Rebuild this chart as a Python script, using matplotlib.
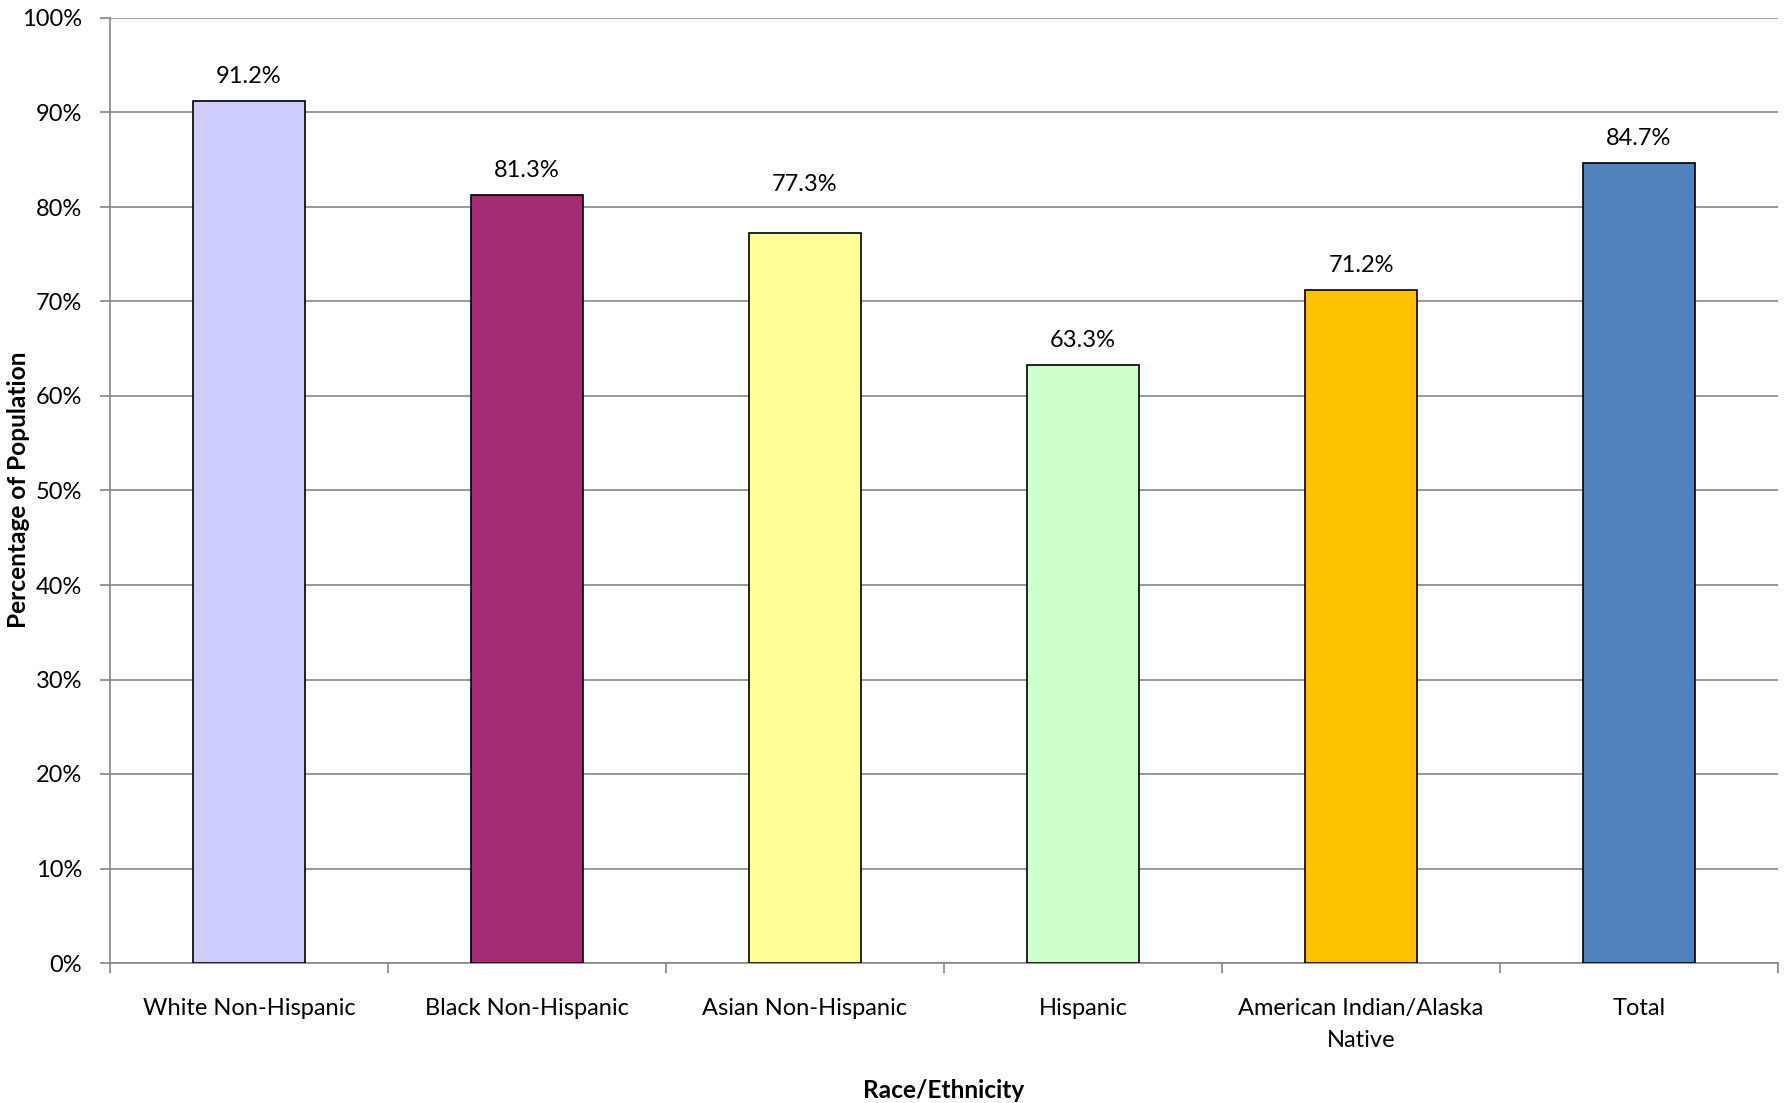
import matplotlib
matplotlib.use("Agg")
import matplotlib.pyplot as plt
from matplotlib.ticker import FixedLocator, PercentFormatter

categories = ["White Non-Hispanic", "Black Non-Hispanic", "Asian Non-Hispanic",
              "Hispanic", "American Indian/Alaska\nNative", "Total"]
values = [91.2, 81.3, 77.3, 63.3, 71.2, 84.7]
colors = ["#CCCCFF", "#A52A74", "#FFFF99", "#CCFFCC", "#FFC000", "#4F81BD"]
label_offsets = [10, 10, 27, 10, 10, 10]

plt.rcParams['font.family'] = ['Lato', 'DejaVu Sans']

fig = plt.figure(figsize=(17.86, 11.03), dpi=100)
ax = fig.add_axes([110/1786, 1 - 963/1103, (1778-110)/1786, (963-18)/1103])

x = list(range(len(categories)))
bars = ax.bar(x, values, width=0.4, color=colors, edgecolor="black", linewidth=1.2, zorder=3)

for xi, v, off in zip(x, values, label_offsets):
    ax.annotate(f"{v:.1f}%", (xi, v), xytext=(0, off), textcoords="offset points",
                ha="center", va="bottom", fontsize=17, color="black")

ax.set_xlim(-0.5, len(categories) - 0.5)
ax.set_ylim(0, 100)
ax.yaxis.set_major_locator(FixedLocator(range(0, 101, 10)))
ax.yaxis.set_major_formatter(PercentFormatter(decimals=0))
ax.grid(axis="y", color="#888888", linewidth=1.2, zorder=0)

ax.set_xticks(x)
ax.set_xticklabels(categories, fontsize=17, linespacing=1.65)
ax.set_xticks([i - 0.5 for i in range(len(categories) + 1)], minor=True)
ax.tick_params(axis="x", which="major", length=0, pad=25)
ax.tick_params(axis="x", which="minor", length=7, width=1.2, color="#888888", direction="out")
ax.tick_params(axis="y", length=7, width=1.2, color="#888888", direction="out", labelsize=17, pad=13)

for s in ["top", "right"]:
    ax.spines[s].set_visible(False)
for s in ["left", "bottom"]:
    ax.spines[s].set_color("#888888")
    ax.spines[s].set_linewidth(1.2)

fig.text(944/1786, 1 - 1090/1103, "Race/Ethnicity", fontsize=17.6, fontweight="bold",
         ha="center", va="center")
fig.text(19/1786, 1 - 490/1103, "Percentage of Population", fontsize=17.6, fontweight="bold",
         ha="center", va="center", rotation=90)

fig.savefig("out.png", dpi=100)
